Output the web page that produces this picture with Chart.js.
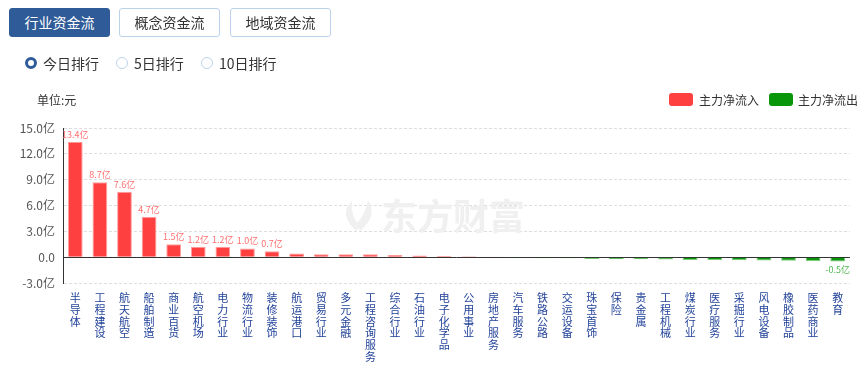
<!DOCTYPE html>
<html><head><meta charset="utf-8">
<script src="https://cdn.jsdelivr.net/npm/chart.js@4/dist/chart.umd.min.js"></script>
<style>
html,body{margin:0;padding:0;background:#fff;width:861px;height:367px;overflow:hidden;font-family:"Noto Sans CJK SC","Noto Sans",sans-serif;}
#wrap{position:relative;width:861px;height:367px;}
#c{position:absolute;left:0;top:0;}
.btn{position:absolute;top:8px;height:29px;width:101px;box-sizing:border-box;border:1px solid #bcd2ea;border-radius:3px;background:#fff;color:#333;font-size:14px;line-height:27px;text-align:center;}
.btn.on{background:#2f5b98;border-color:#2f5b98;color:#fff;}
.radio{position:absolute;top:57px;width:12px;height:12px;box-sizing:border-box;border-radius:50%;border:1px solid #bcd2ea;background:#fff;}
.radio.on{border:3.5px solid #2f5b98;}
.rtxt{position:absolute;top:53px;font-size:14px;line-height:20px;color:#333;}
.unit{position:absolute;left:37px;top:91px;font-size:12px;line-height:17px;color:#333;}
.lbox{position:absolute;top:93px;width:24px;height:13px;border-radius:3px;}
.ltxt{position:absolute;top:91px;font-size:12px;line-height:17px;color:#333;white-space:nowrap;}
</style></head>
<body><div id="wrap">
<canvas id="c" width="861" height="367"></canvas>
<div class="btn on" style="left:9px">行业资金流</div>
<div class="btn" style="left:119px">概念资金流</div>
<div class="btn" style="left:230px">地域资金流</div>
<div class="radio on" style="left:25px"></div><div class="rtxt" style="left:43px">今日排行</div>
<div class="radio" style="left:116px"></div><div class="rtxt" style="left:134px">5日排行</div>
<div class="radio" style="left:201px"></div><div class="rtxt" style="left:219px">10日排行</div>
<div class="unit">单位:元</div>
<div class="lbox" style="left:669px;background:#ff4040"></div><div class="ltxt" style="left:699px">主力净流入</div>
<div class="lbox" style="left:769px;background:#0a960a"></div><div class="ltxt" style="left:798px">主力净流出</div>
</div>
<script>
const categories = ['半导体','工程建设','航天航空','船舶制造','商业百货','航空机场','电力行业','物流行业','装修装饰','航运港口','贸易行业','多元金融','工程咨询服务','综合行业','石油行业','电子化学品','公用事业','房地产服务','汽车服务','铁路公路','交运设备','珠宝首饰','保险','贵金属','工程机械','煤炭行业','医疗服务','采掘行业','风电设备','橡胶制品','医药商业','教育'];
// 主力净流入 / 净流出 (亿元)
const netFlow = [13.4,8.7,7.6,4.7,1.5,1.2,1.2,1.0,0.7,0.42,0.35,0.34,0.33,0.25,0.2,0.15,0.1,0.01,-0.03,-0.12,-0.12,-0.2,-0.23,-0.23,-0.26,-0.33,-0.34,-0.37,-0.4,-0.41,-0.44,-0.5];
const yTickValues = [-3,0,3,6,9,12,15];
const seriesNames = ['主力净流入','主力净流出'];

const inflow = netFlow.map(v => v >= 0 ? v : null);
const outflow = netFlow.map(v => v < 0 ? v : null);
const FONT = '"Noto Sans CJK SC","Noto Sans",sans-serif';

const watermark = {
  id:'watermark',
  beforeDatasetsDraw(chart){
    const ctx = chart.ctx;
    ctx.save();
    ctx.fillStyle = '#f0f0f0';
    ctx.font = 'bold 36px ' + FONT;
    ctx.textBaseline = 'middle';
    ctx.fillText('东方财富', 381, 216);
    ctx.beginPath();
    ctx.moveTo(356, 231);
    ctx.quadraticCurveTo(338, 214, 352, 201);
    ctx.quadraticCurveTo(350, 216, 360, 226);
    ctx.closePath();
    ctx.fill();
    ctx.beginPath();
    ctx.moveTo(360, 231);
    ctx.quadraticCurveTo(378, 216, 368, 200);
    ctx.quadraticCurveTo(366, 214, 356, 224);
    ctx.closePath();
    ctx.fill();
    ctx.restore();
  }
};
const zeroLine = {
  id:'zeroLine',
  beforeDatasetsDraw(chart){
    const {ctx, chartArea, scales} = chart;
    const y0 = Math.round(scales.y.getPixelForValue(0)) + 0.5;
    ctx.save();
    ctx.strokeStyle = '#333';
    ctx.lineWidth = 1;
    ctx.beginPath();
    ctx.moveTo(chartArea.left, y0);
    ctx.lineTo(chartArea.right, y0);
    ctx.stroke();
    ctx.restore();
  }
};
const valueLabels = {
  id:'valueLabels',
  afterDatasetsDraw(chart){
    const ctx = chart.ctx;
    ctx.save();
    ctx.font = '9px ' + FONT;
    ctx.textAlign = 'center';
    chart.data.datasets.forEach((ds, i) => {
      chart.getDatasetMeta(i).data.forEach((bar, j) => {
        const v = ds.data[j];
        if (v == null || Math.abs(v) < 0.5) return;
        const t = v.toFixed(1) + '亿';
        if (v > 0) { ctx.fillStyle = '#ff6f6f'; ctx.textBaseline = 'bottom'; ctx.fillText(t, bar.x, bar.y - 3); }
        else { ctx.fillStyle = '#52b852'; ctx.textBaseline = 'top'; ctx.fillText(t, bar.x, bar.y + 4); }
      });
    });
    ctx.restore();
  }
};

new Chart(document.getElementById('c'), {
  type:'bar',
  data:{
    labels: categories.map(c => c.split('')),
    datasets:[
      {label:seriesNames[0], data:inflow, backgroundColor:'#ff4040', borderColor:'#ff9d9d', borderWidth:1, barPercentage:0.6, categoryPercentage:1},
      {label:seriesNames[1], data:outflow, backgroundColor:'#0a960a', borderColor:'#7acb7a', borderWidth:1, barPercentage:0.6, categoryPercentage:1}
    ]
  },
  options:{
    responsive:false, animation:false, devicePixelRatio:1,
    layout:{padding:{top:128,right:11,bottom:0,left:0}},
    plugins:{legend:{display:false}, tooltip:{enabled:false}},
    scales:{
      x:{
        stacked:true,
        grid:{display:false},
        border:{display:false},
        ticks:{autoSkip:false, maxRotation:0, minRotation:0, padding:1, color:'#23439a', font:{family:FONT, size:11, lineHeight:1.07}},
        afterFit(s){ s.height = 84; }
      },
      y:{
        stacked:true,
        min:-3, max:15,
        afterBuildTicks(s){ s.ticks = yTickValues.map(v => ({value:v})); },
        grid:{color:ctx => ctx.tick && ctx.tick.value === 0 ? 'rgba(0,0,0,0)' : '#dedede', drawTicks:false},
        border:{display:true, color:'#333', width:1, dash:[3,2]},
        ticks:{padding:8, color:'#555', font:{family:FONT, size:12},
          callback:v => v === 0 ? '0.0' : v.toFixed(1) + '亿'},
        afterFit(s){ s.width = 63; }
      }
    }
  },
  plugins:[watermark, zeroLine, valueLabels]
});
</script>
</body></html>
